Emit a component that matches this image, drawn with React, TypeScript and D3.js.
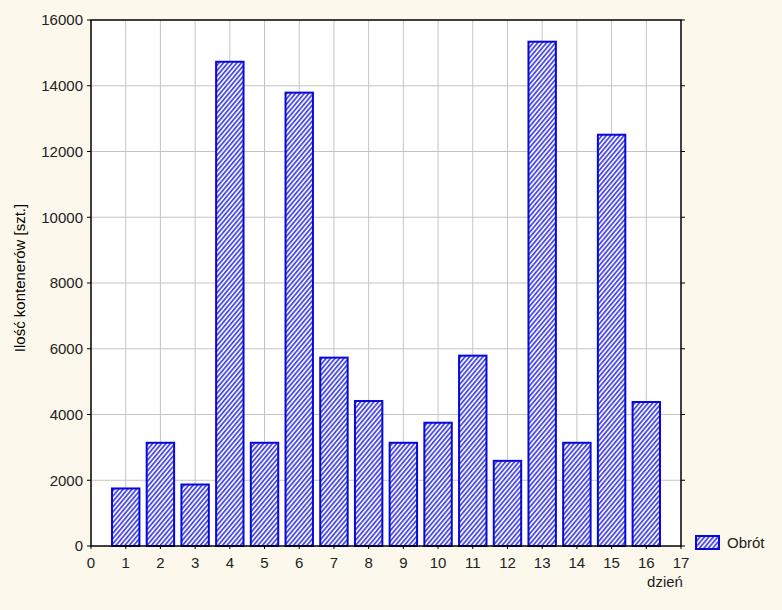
import React from "react";
import * as d3 from "d3";

const days = [1, 2, 3, 4, 5, 6, 7, 8, 9, 10, 11, 12, 13, 14, 15, 16];
const obrot = [1750, 3140, 1870, 14730, 3140, 13790, 5730, 4410, 3140, 3750, 5790, 2590, 15340, 3140, 12510, 4380];
const xTicks = [0, 1, 2, 3, 4, 5, 6, 7, 8, 9, 10, 11, 12, 13, 14, 15, 16, 17];
const yTicks = [0, 2000, 4000, 6000, 8000, 10000, 12000, 14000, 16000];
const seriesName = "Obrót";
const xLabel = "dzień";
const yLabel = "Ilość kontenerów [szt.]";

const W = 782, H = 610;
const L = 91, R = 681, T = 20, B = 546;
const font = "'Liberation Sans', Arial, sans-serif";
const blue = "#0808d8";

export default function App() {
  const x = d3.scaleLinear().domain([0, 17]).range([L, R]);
  const y = d3.scaleLinear().domain([0, 16000]).range([B, T]);
  const bw = (x(1) - x(0)) * 0.79;
  return (
    <svg width={W} height={H} style={{ position: "fixed", left: 0, top: 0 }} fontFamily={font}>
      <defs>
        <pattern id="hatch" patternUnits="userSpaceOnUse" width="3.4" height="10" patternTransform="rotate(40)">
          <rect width="3.4" height="10" fill="#f0f0fd" />
          <line x1="0.8" y1="0" x2="0.8" y2="10" stroke={blue} strokeWidth="1.2" />
        </pattern>
      </defs>
      <rect width={W} height={H} fill="#fcf8ec" />
      <rect x={L} y={T} width={R - L} height={B - T} fill="#fff" />
      {xTicks.filter(t => t > 0 && t < 17).map(t => (
        <line key={"gx" + t} x1={x(t)} x2={x(t)} y1={T} y2={B} stroke="#c4c4c4" strokeWidth={1} />
      ))}
      {yTicks.filter(t => t > 0 && t < 16000).map(t => (
        <line key={"gy" + t} x1={L} x2={R} y1={y(t)} y2={y(t)} stroke="#c4c4c4" strokeWidth={1} />
      ))}
      {obrot.map((v, i) => (
        <rect key={"b" + i} x={x(days[i]) - bw / 2} y={y(v)} width={bw} height={y(0) - y(v)}
          fill="url(#hatch)" stroke={blue} strokeWidth={2} />
      ))}
      <rect x={L} y={T} width={R - L} height={B - T} fill="none" stroke="#000" strokeWidth={1.5} />
      {yTicks.map(t => (
        <g key={"yt" + t}>
          <line x1={L - 4} x2={L} y1={y(t)} y2={y(t)} stroke="#000" />
          <line x1={R} x2={R + 4} y1={y(t)} y2={y(t)} stroke="#000" />
          <text x={L - 8} y={y(t)} dy="0.35em" textAnchor="end" fontSize={15} fill="#222">{t}</text>
        </g>
      ))}
      {xTicks.map(t => (
        <g key={"xt" + t}>
          <line x1={x(t)} x2={x(t)} y1={B} y2={B + 3} stroke="#000" />
          <text x={x(t)} y={B + 22} textAnchor="middle" fontSize={15} fill="#222">{t}</text>
        </g>
      ))}
      <text x={665} y={587} textAnchor="middle" fontSize={15} fill="#222">{xLabel}</text>
      <text transform={`translate(25, 278) rotate(-90)`} textAnchor="middle" fontSize={15} fill="#000">{yLabel}</text>
      <rect x={696} y={536} width={23} height={13} fill="url(#hatch)" stroke={blue} strokeWidth={2} />
      <text x={727} y={548} fontSize={15} fill="#222">{seriesName}</text>
    </svg>
  );
}
